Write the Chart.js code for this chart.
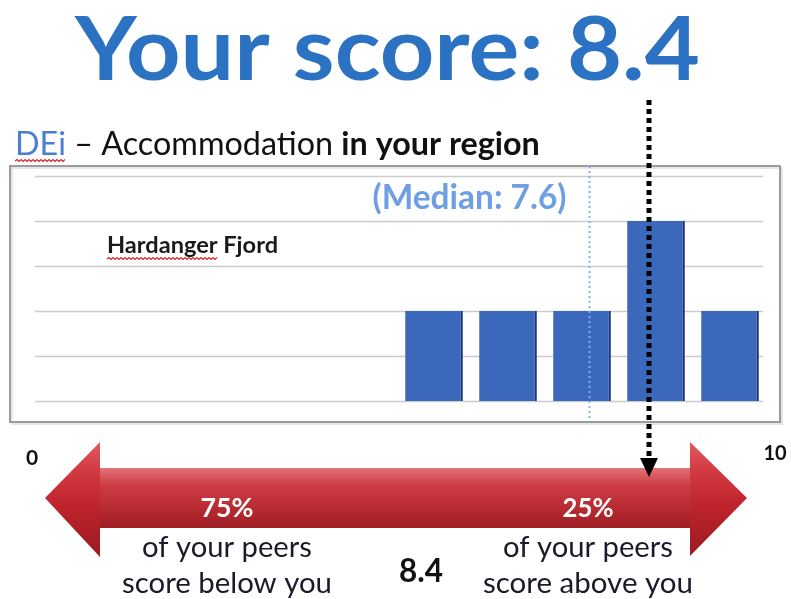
<!DOCTYPE html>
<html>
<head>
<meta charset="utf-8">
<script src="https://cdn.jsdelivr.net/npm/chart.js@4/dist/chart.umd.min.js"></script>
<style>
  html, body { margin: 0; padding: 0; background: #ffffff; }
  #wrap { width: 791px; height: 599px; position: relative; }
  canvas { display: block; }
</style>
</head>
<body>
<div id="wrap"><canvas id="c" width="791" height="599"></canvas></div>
<script>
// ---- data ----
const binStarts = [0, 1, 2, 3, 4, 5, 6, 7, 8, 9];
const counts    = [0, 0, 0, 0, 0, 1, 1, 1, 2, 1];
const yTicks    = [0, 0.5, 1, 1.5, 2, 2.5];
const xTickLabels = ['0', '10'];
const xTickValues = [0, 10];
const yourScore = 8.4;
const medianScore = 7.6;
const pctBelow = '75%';
const pctAbove = '25%';
const titleText = 'Your score: ' + yourScore;
const regionName = 'Hardanger Fjord';

const points = binStarts
  .map((b, i) => ({ x: b + 0.5, y: counts[i] }))
  .filter(p => p.y > 0);

const FAM = 'Lato, "Open Sans", sans-serif';

function fitSize(ctx, text, weight, targetW) {
  ctx.font = weight + ' 100px ' + FAM;
  return 100 * targetW / ctx.measureText(text).width;
}
function drawFit(ctx, text, weight, color, targetW, x, y, align) {
  const s = fitSize(ctx, text, weight, targetW);
  ctx.font = weight + ' ' + s.toFixed(2) + 'px ' + FAM;
  ctx.fillStyle = color;
  ctx.textAlign = align || 'left';
  ctx.textBaseline = 'alphabetic';
  ctx.fillText(text, x, y);
}
function squiggle(ctx, x0, x1, y) {
  ctx.save();
  ctx.strokeStyle = '#e0252a';
  ctx.lineWidth = 1.2;
  ctx.beginPath();
  let up = true;
  ctx.moveTo(x0, y);
  for (let x = x0 + 2; x <= x1; x += 2) {
    ctx.lineTo(x, up ? y - 1.5 : y + 0.5);
    up = !up;
  }
  ctx.stroke();
  ctx.restore();
}

const decor = {
  id: 'decor',
  beforeDraw(chart) {
    const ctx = chart.ctx;
    ctx.save();
    ctx.fillStyle = '#ffffff';
    ctx.fillRect(0, 0, chart.width, chart.height);
    ctx.strokeStyle = '#e6e6e6';
    ctx.lineWidth = 2;
    ctx.strokeRect(12, 168, 770, 256);
    ctx.strokeStyle = '#9c9c9c';
    ctx.lineWidth = 2;
    ctx.strokeRect(10, 166, 770, 256);
    ctx.restore();
  },
  beforeDatasetsDraw(chart) {
    const ctx = chart.ctx, ys = chart.scales.y, a = chart.chartArea;
    ctx.save();
    ctx.strokeStyle = '#cbcbcb';
    ctx.lineWidth = 1.6;
    yTicks.forEach(v => {
      const py = Math.round(ys.getPixelForValue(v)) + 0.5;
      ctx.beginPath();
      ctx.moveTo(a.left + 8, py);
      ctx.lineTo(a.right - 4, py);
      ctx.stroke();
    });
    ctx.restore();
  },
  afterDatasetsDraw(chart) {
    const ctx = chart.ctx, xs = chart.scales.x;
    ctx.save();

    // title (slightly compressed vertically to match the narrower original face)
    ctx.save();
    ctx.translate(75, 80);
    ctx.scale(1, 0.93);
    drawFit(ctx, titleText, 'bold', '#2b72c3', 625, 0, 0, 'left');
    ctx.restore();

    // subtitle (mixed styles)
    const parts = [
      { t: 'DEi', w: 'normal', c: '#4a80d2' },
      { t: ' \u2013 Accommodation ', w: 'normal', c: '#111111' },
      { t: 'in your region', w: 'bold', c: '#111111' }
    ];
    let tot = 0;
    parts.forEach(p => { ctx.font = p.w + ' 100px ' + FAM; tot += ctx.measureText(p.t).width; });
    const subSize = 100 * 525 / tot;
    let sx = 15;
    parts.forEach(p => {
      ctx.font = p.w + ' ' + subSize.toFixed(2) + 'px ' + FAM;
      ctx.fillStyle = p.c;
      ctx.textAlign = 'left';
      ctx.fillText(p.t, sx, 155);
      p.x = sx; p.w2 = ctx.measureText(p.t).width;
      sx += p.w2;
    });
    squiggle(ctx, parts[0].x, parts[0].x + parts[0].w2, 161);

    // region label
    drawFit(ctx, regionName, 'bold', '#1a1a1a', 171, 107, 253, 'left');
    ctx.font = 'bold ' + fitSize(ctx, regionName, 'bold', 171).toFixed(2) + 'px ' + FAM;
    const hw = ctx.measureText('Hardanger').width;
    squiggle(ctx, 107, 107 + hw, 259);

    // median line + label
    const mx = Math.round(xs.getPixelForValue(medianScore)) + 0.5;
    ctx.strokeStyle = '#7ab2f2';
    ctx.lineWidth = 2;
    ctx.setLineDash([2, 3]);
    ctx.beginPath();
    ctx.moveTo(mx, 166);
    ctx.lineTo(mx, 420);
    ctx.stroke();
    ctx.setLineDash([]);
    drawFit(ctx, '(Median: ' + medianScore + ')', 'bold', '#6e9fe4', 194, mx - 23, 209, 'right');

    // red double arrow
    const g = ctx.createLinearGradient(0, 442, 0, 557);
    g.addColorStop(0, '#e25a62');
    g.addColorStop(0.25, '#d23a42');
    g.addColorStop(0.55, '#bf242c');
    g.addColorStop(1, '#9a1a20');
    ctx.fillStyle = g;
    ctx.beginPath();
    ctx.moveTo(45, 498);
    ctx.lineTo(100, 442);
    ctx.lineTo(100, 468);
    ctx.lineTo(690, 468);
    ctx.lineTo(690, 442);
    ctx.lineTo(747, 498);
    ctx.lineTo(690, 556);
    ctx.lineTo(690, 528);
    ctx.lineTo(100, 528);
    ctx.lineTo(100, 557);
    ctx.closePath();
    ctx.fill();
    const g2 = ctx.createLinearGradient(0, 468, 0, 528);
    g2.addColorStop(0, 'rgba(255,255,255,0.28)');
    g2.addColorStop(0.3, 'rgba(255,255,255,0.05)');
    g2.addColorStop(1, 'rgba(0,0,0,0.10)');
    ctx.fillStyle = g2;
    ctx.fillRect(100, 468, 590, 60);

    // axis end labels
    ctx.fillStyle = '#111111';
    ctx.textAlign = 'center';
    xTickValues.forEach((v, i) => {
      ctx.font = 'bold ' + (i === 0 ? 21 : 20) + 'px ' + FAM;
      const px = xs.getPixelForValue(v) + (i === 0 ? 5 : 8);
      ctx.fillText(xTickLabels[i], px, i === 0 ? 465 : 460);
    });

    // percent texts
    drawFit(ctx, pctBelow, 'bold', '#ffffff', 53, 227, 517, 'center');
    drawFit(ctx, pctAbove, 'bold', '#ffffff', 51, 588, 517, 'center');
    drawFit(ctx, 'of your peers', 'normal', '#1a1a2a', 170, 227, 557, 'center');
    drawFit(ctx, 'score below you', 'normal', '#1a1a2a', 210, 227, 593, 'center');
    drawFit(ctx, 'of your peers', 'normal', '#1a1a2a', 170, 588, 557, 'center');
    drawFit(ctx, 'score above you', 'normal', '#1a1a2a', 210, 588, 593, 'center');
    drawFit(ctx, String(yourScore), 'bold', '#111111', 44, 421, 582, 'center');

    // score dotted arrow
    const sxp = Math.round(xs.getPixelForValue(yourScore));
    ctx.strokeStyle = '#000000';
    ctx.lineWidth = 5;
    ctx.setLineDash([5, 4]);
    ctx.beginPath();
    ctx.moveTo(sxp, 100);
    ctx.lineTo(sxp, 460);
    ctx.stroke();
    ctx.setLineDash([]);
    ctx.fillStyle = '#000000';
    ctx.beginPath();
    ctx.moveTo(sxp - 9, 458);
    ctx.lineTo(sxp + 9, 458);
    ctx.lineTo(sxp, 477);
    ctx.closePath();
    ctx.fill();

    ctx.restore();
  }
};

new Chart(document.getElementById('c'), {
  type: 'bar',
  data: {
    datasets: [{
      data: points,
      backgroundColor: '#3b68ba',
      borderColor: '#1d3470',
      borderWidth: { top: 0, left: 0, bottom: 0, right: 2 },
      borderSkipped: false,
      barPercentage: 0.78,
      categoryPercentage: 1
    }]
  },
  options: {
    responsive: false,
    animation: false,
    layout: { padding: { left: 27, right: 24, top: 176, bottom: 198 } },
    plugins: { legend: { display: false }, tooltip: { enabled: false }, title: { display: false } },
    scales: {
      x: { type: 'linear', min: 0, max: 10, offset: false, display: false },
      y: { min: 0, max: 2.5, display: false }
    }
  },
  plugins: [decor]
});
</script>
</body>
</html>
